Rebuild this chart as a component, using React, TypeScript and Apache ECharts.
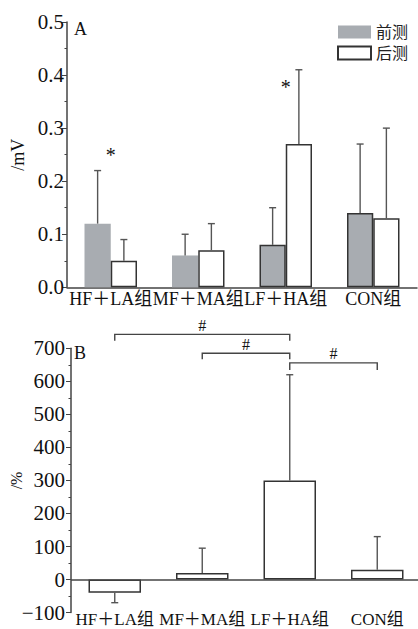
import React, { useEffect, useRef } from 'react';
import * as echarts from 'echarts';

const categories = ['HF＋LA组', 'MF＋MA组', 'LF＋HA组', 'CON组'];
const seriesNames = ['前测', '后测'];
const preValues = [0.12, 0.06, 0.08, 0.14];
const preErrTop = [0.22, 0.1, 0.15, 0.27];
const postValues = [0.05, 0.07, 0.27, 0.13];
const postErrTop = [0.09, 0.12, 0.41, 0.3];
const changeValues = [-40, 20, 300, 30];
const changeErrEnd = [-70, 95, 620, 130];
// asterisks: [categoryIndex, value]
const stars = [
  [0, 0.25],
  [2, 0.378],
];
// brackets: [fromCategory, toCategory, levelValue, dropValue]
const brackets = [
  [0, 2, 742, 723],
  [1, 2, 685, 667],
  [2, 3, 656, 634],
];

const FONT = "'Liberation Serif', 'Times New Roman', 'Noto Sans CJK SC', serif";
const AX = '#444';

export default function App() {
  const ref = useRef<HTMLDivElement>(null);
  useEffect(() => {
    document.body.style.margin = '0';
    const chart = echarts.init(ref.current!, null, { renderer: 'svg' });

    const errBar = (offsetFrac: number) => (params: any, api: any) => {
      const cat = api.value(0);
      const band = api.size([1, 0])[0];
      const p0 = api.coord([cat, api.value(1)]);
      const p1 = api.coord([cat, api.value(2)]);
      const x = p0[0] + band * offsetFrac;
      const cap = 3.5;
      return {
        type: 'group',
        children: [
          { type: 'line', shape: { x1: x, y1: p0[1], x2: x, y2: p1[1] }, style: { stroke: '#555', lineWidth: 1.4 } },
          { type: 'line', shape: { x1: x - cap, y1: p1[1], x2: x + cap, y2: p1[1] }, style: { stroke: '#555', lineWidth: 1.4 } },
        ],
      };
    };

    const preOutlined = (i: number) => i >= 2;

    const option: any = {
      animation: false,
      textStyle: { fontFamily: FONT },
      grid: [
        { left: 67, top: 22, width: 350, height: 265.3, outerBoundsMode: 'none', containLabel: false },
        { left: 71, top: 348.3, width: 350, height: 264.3, outerBoundsMode: 'none', containLabel: false },
      ],
      legend: {
        data: seriesNames,
        orient: 'vertical',
        left: 337,
        top: 24,
        itemWidth: 33,
        itemHeight: 13,
        itemGap: 5,
        icon: 'rect',
        textStyle: { fontFamily: FONT, fontSize: 16, color: '#222' },
        padding: 0,
      },
      xAxis: [
        {
          type: 'category', gridIndex: 0, data: categories,
          axisLine: { lineStyle: { color: AX, width: 1.5 } },
          axisTick: { show: false },
          axisLabel: { interval: 0, color: '#111', fontSize: 18, fontFamily: FONT, margin: 3 },
        },
        {
          type: 'category', gridIndex: 1, data: categories,
          axisLine: { show: false, onZero: false },
          axisTick: { show: false },
          axisLabel: { interval: 0, color: '#111', fontSize: 17, lineHeight: 16, fontFamily: FONT, margin: -1 },
        },
      ],
      yAxis: [
        {
          type: 'value', gridIndex: 0, min: 0, max: 0.5, interval: 0.1,
          name: '/mV', nameLocation: 'middle', nameGap: 40, nameRotate: 90, nameMoveOverlap: false,
          nameTextStyle: { fontSize: 18, fontFamily: FONT, color: '#111' },
          axisLine: { show: true, lineStyle: { color: AX, width: 1.5 } },
          axisTick: { show: true, length: 5, lineStyle: { color: AX } },
          minorTick: { show: true, splitNumber: 2, length: 2.5, lineStyle: { color: AX } },
          splitLine: { show: false },
          axisLabel: { fontSize: 21, color: '#111', fontFamily: FONT, margin: 3, formatter: (v: number) => v.toFixed(1) },
        },
        {
          type: 'value', gridIndex: 1, min: -100, max: 700, interval: 100,
          name: '/%', nameLocation: 'middle', nameGap: 47, nameRotate: 90, nameMoveOverlap: false,
          nameTextStyle: { fontSize: 16, fontFamily: FONT, color: '#111' },
          axisLine: { show: true, lineStyle: { color: AX, width: 1.5 } },
          axisTick: { show: true, length: 5, lineStyle: { color: AX } },
          minorTick: { show: true, splitNumber: 2, length: 2.5, lineStyle: { color: AX } },
          splitLine: { show: false },
          axisLabel: { fontSize: 21, color: '#111', fontFamily: FONT, margin: 6, formatter: (v: number) => String(v).replace('-', '−') },
        },
      ],
      graphic: [
        { type: 'text', left: 74, top: 20, style: { text: 'A', fontSize: 18, fontFamily: FONT, fill: '#111' } },
        { type: 'text', left: 74, top: 344, style: { text: 'B', fontSize: 18, fontFamily: FONT, fill: '#111' } },
      ],
      series: [
        {
          name: seriesNames[0], type: 'bar', xAxisIndex: 0, yAxisIndex: 0,
          barWidth: '30%', barGap: '0%',
          itemStyle: { color: '#a8acb1' },
          data: preValues.map((v, i) =>
            preOutlined(i) ? { value: v, itemStyle: { borderColor: '#333', borderWidth: 1.5 } } : v),
        },
        {
          name: seriesNames[1], type: 'bar', xAxisIndex: 0, yAxisIndex: 0,
          barWidth: '30%', barGap: '0%',
          itemStyle: { color: '#fff', borderColor: '#333', borderWidth: 1.5 },
          data: postValues,
        },
        {
          type: 'custom', xAxisIndex: 0, yAxisIndex: 0, z: 5,
          renderItem: errBar(-0.15),
          data: preValues.map((v, i) => [i, v, preErrTop[i]]),
        },
        {
          type: 'custom', xAxisIndex: 0, yAxisIndex: 0, z: 5,
          renderItem: errBar(0.15),
          data: postValues.map((v, i) => [i, v, postErrTop[i]]),
        },
        {
          type: 'custom', xAxisIndex: 0, yAxisIndex: 0, z: 5,
          renderItem: (params: any, api: any) => {
            const p = api.coord([api.value(0), api.value(1)]);
            return {
              type: 'text', x: p[0], y: p[1],
              style: { text: '*', fontSize: 20, fontFamily: FONT, fill: '#111', align: 'center', verticalAlign: 'middle' },
            };
          },
          data: stars,
        },
        {
          type: 'bar', xAxisIndex: 1, yAxisIndex: 1,
          barWidth: '60%',
          itemStyle: { color: '#fff', borderColor: '#333', borderWidth: 1.5 },
          data: changeValues,
          markLine: {
            silent: true, symbol: 'none', label: { show: false },
            lineStyle: { color: AX, width: 1.5, type: 'solid' },
            data: [{ yAxis: 0 }],
          },
        },
        {
          type: 'custom', xAxisIndex: 1, yAxisIndex: 1, z: 5,
          renderItem: errBar(0),
          data: changeValues.map((v, i) => [i, v, changeErrEnd[i]]),
        },
        {
          type: 'custom', xAxisIndex: 1, yAxisIndex: 1, z: 5, clip: false,
          encode: { x: 0, y: 2 },
          renderItem: (params: any, api: any) => {
            const a = api.coord([api.value(0), api.value(2)]);
            const b = api.coord([api.value(1), api.value(2)]);
            const d = api.coord([api.value(0), api.value(3)]);
            return {
              type: 'group',
              children: [
                {
                  type: 'polyline',
                  shape: { points: [[a[0], d[1]], [a[0], a[1]], [b[0], b[1]], [b[0], d[1]]] },
                  style: { stroke: '#444', lineWidth: 1.4, fill: 'none' },
                },
                {
                  type: 'text', x: (a[0] + b[0]) / 2, y: a[1] - 9,
                  style: { text: '#', fontSize: 16, fontFamily: FONT, fill: '#111', align: 'center', verticalAlign: 'middle' },
                },
              ],
            };
          },
          data: brackets,
        },
      ],
    };
    chart.setOption(option);
    return () => chart.dispose();
  }, []);
  return <div ref={ref} style={{ width: 418, height: 629 }} />;
}
